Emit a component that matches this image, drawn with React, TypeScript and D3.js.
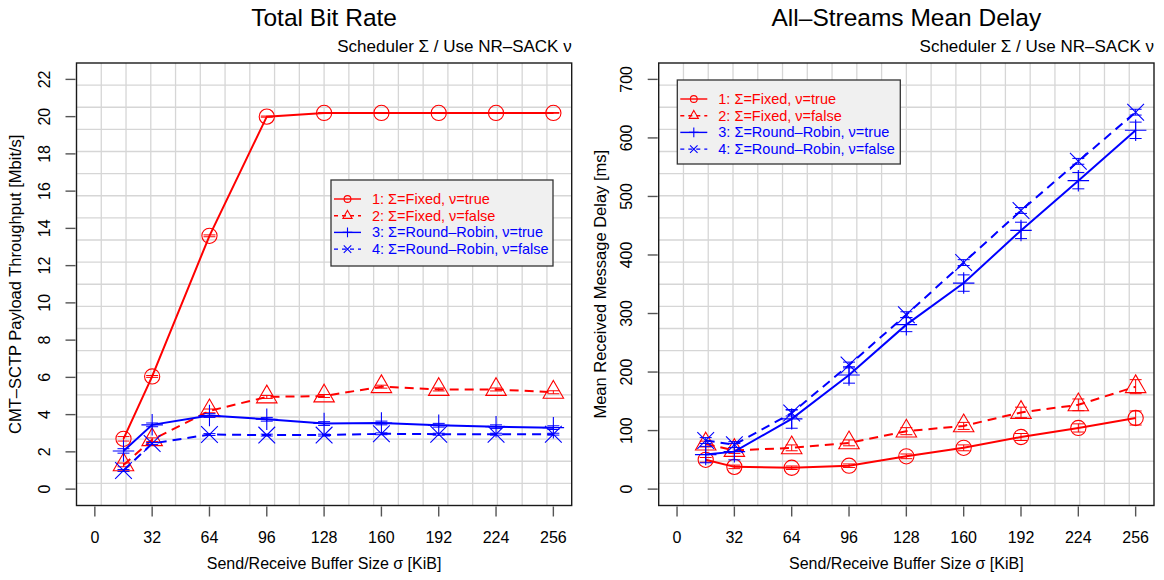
import React, { useRef, useEffect } from 'react';
import * as d3 from 'd3';

// buffer sizes sigma [KiB]
const bufferSizes = [16, 32, 64, 96, 128, 160, 192, 224, 256];
const xTicks = [0, 32, 64, 96, 128, 160, 192, 224, 256];
const rateTicks = [0, 2, 4, 6, 8, 10, 12, 14, 16, 18, 20, 22];
const delayTicks = [0, 100, 200, 300, 400, 500, 600, 700];

const seriesLabels = [
  '1: Σ=Fixed, ν=true',
  '2: Σ=Fixed, ν=false',
  '3: Σ=Round–Robin, ν=true',
  '4: Σ=Round–Robin, ν=false',
];

// total bit rate [Mbit/s]
const rateFixedTrue = [2.7, 6.05, 13.6, 20.0, 20.2, 20.2, 20.2, 20.2, 20.2];
const rateFixedFalse = [1.3, 2.65, 4.2, 4.95, 5.0, 5.5, 5.35, 5.35, 5.2];
const rateRRTrue = [2.05, 3.45, 3.95, 3.75, 3.52, 3.55, 3.43, 3.35, 3.3];
const rateRRFalse = [1.0, 2.45, 2.93, 2.9, 2.9, 2.97, 2.95, 2.95, 2.95];
const rateErrFixedTrue = [0.12, 0.05, 0.05, 0.03, 0.02, 0.02, 0.02, 0.02, 0.02];
const rateErrFixedFalse = [0.1, 0.1, 0.1, 0.08, 0.08, 0.08, 0.08, 0.08, 0.08];
const rateErrRRTrue = [0.12, 0.1, 0.1, 0.1, 0.1, 0.1, 0.1, 0.1, 0.1];
const rateErrRRFalse = [0.05, 0.05, 0.05, 0.05, 0.05, 0.05, 0.05, 0.05, 0.05];

// mean delay [ms]
const delayFixedTrue = [50, 38, 36.5, 40, 56, 70.5, 89, 104.5, 121.5];
const delayFixedFalse = [77, 66, 70.5, 79, 99, 108, 131, 144, 175];
const delayRRTrue = [59, 64, 120, 195, 281, 352, 442, 527, 613];
const delayRRFalse = [83, 76, 130, 212, 298, 387, 476, 560, 644];
const delayErrFixedTrue = [4, 3, 3, 3, 4, 5, 6, 7, 12];
const delayErrFixedFalse = [5, 5, 5, 5, 6, 6, 9, 10, 12];
const delayErrRRTrue = [14, 14, 16, 14, 12, 14, 14, 14, 14];
const delayErrRRFalse = [5, 5, 5, 5, 5, 5, 5, 5, 5];

const FONT = "'Liberation Sans', Arial, Helvetica, sans-serif";
const RED = '#ff0000';
const BLUE = '#0000ff';

const seriesStyle = [
  { color: RED, dash: null, pch: 'circle' },
  { color: RED, dash: '9,6', pch: 'triangle' },
  { color: BLUE, dash: null, pch: 'plus' },
  { color: BLUE, dash: '9,6', pch: 'cross' },
];

const drawMarker = (g, pch, cx, cy, r, color) => {
  if (pch === 'circle') {
    g.append('circle')
      .attr('cx', cx)
      .attr('cy', cy)
      .attr('r', r)
      .attr('fill', 'none')
      .attr('stroke', color)
      .attr('stroke-width', 1.1);
  } else if (pch === 'triangle') {
    const xc = 1.3468 * r;
    const top = 1.5551 * r;
    const bot = 0.7776 * r;
    g.append('path')
      .attr(
        'd',
        `M${cx},${cy - top}L${cx + xc},${cy + bot}L${cx - xc},${cy + bot}Z`
      )
      .attr('fill', 'none')
      .attr('stroke', color)
      .attr('stroke-width', 1.1);
  } else if (pch === 'plus') {
    const a = 1.4142 * r;
    g.append('path')
      .attr('d', `M${cx - a},${cy}H${cx + a}M${cx},${cy - a}V${cy + a}`)
      .attr('stroke', color)
      .attr('stroke-width', 1.1);
  } else {
    const a = r * 1.1;
    g.append('path')
      .attr(
        'd',
        `M${cx - a},${cy - a}L${cx + a},${cy + a}M${cx - a},${cy + a}L${cx + a},${cy - a}`
      )
      .attr('stroke', color)
      .attr('stroke-width', 1.1);
  }
};

const renderPanel = (svg, cfg) => {
  const { left, right, top, bottom, xDomain, yDomain, yTicks } = cfg;
  const xScale = d3.scaleLinear().domain(xDomain).range([left, right]);
  const yScale = d3.scaleLinear().domain(yDomain).range([bottom, top]);
  const g = svg.append('g');

  // grid, 20 x 20 cells over the plot region
  const grid = g.append('g').attr('stroke', '#d6d6d6').attr('stroke-width', 1.3);
  d3.range(1, 20).forEach((k) => {
    const xv = xDomain[0] + (k * (xDomain[1] - xDomain[0])) / 20;
    const yv = yDomain[0] + (k * (yDomain[1] - yDomain[0])) / 20;
    grid
      .append('line')
      .attr('x1', xScale(xv))
      .attr('x2', xScale(xv))
      .attr('y1', top)
      .attr('y2', bottom);
    grid
      .append('line')
      .attr('x1', left)
      .attr('x2', right)
      .attr('y1', yScale(yv))
      .attr('y2', yScale(yv));
  });

  // x axis
  xTicks.forEach((t) => {
    g.append('line')
      .attr('x1', xScale(t))
      .attr('x2', xScale(t))
      .attr('y1', bottom + 1)
      .attr('y2', bottom + 11)
      .attr('stroke', '#555')
      .attr('stroke-width', 1.4);
    g.append('text')
      .attr('x', xScale(t))
      .attr('y', bottom + 37)
      .attr('text-anchor', 'middle')
      .attr('font-size', 16)
      .text(t);
  });

  // y axis
  yTicks.forEach((t) => {
    g.append('line')
      .attr('x1', left - 11)
      .attr('x2', left - 1)
      .attr('y1', yScale(t))
      .attr('y2', yScale(t))
      .attr('stroke', '#555')
      .attr('stroke-width', 1.4);
    g.append('text')
      .attr('transform', `translate(${left - cfg.yLabelOffset},${yScale(t)}) rotate(-90)`)
      .attr('text-anchor', 'middle')
      .attr('font-size', 16)
      .text(t);
  });

  const cx = (left + right) / 2;
  g.append('text')
    .attr('x', cx)
    .attr('y', bottom + 63)
    .attr('text-anchor', 'middle')
    .attr('font-size', 16)
    .text('Send/Receive Buffer Size σ [KiB]');
  g.append('text')
    .attr('transform', `translate(${left - cfg.yTitleOffset},${(top + bottom) / 2}) rotate(-90)`)
    .attr('text-anchor', 'middle')
    .attr('font-size', 16.5)
    .text(cfg.yTitle);
  g.append('text')
    .attr('x', cx)
    .attr('y', 26)
    .attr('text-anchor', 'middle')
    .attr('font-size', 24.5)
    .text(cfg.title);
  g.append('text')
    .attr('x', right)
    .attr('y', 52)
    .attr('text-anchor', 'end')
    .attr('font-size', 17)
    .text('Scheduler Σ / Use NR–SACK ν');

  // series
  cfg.series.forEach((values, i) => {
    const st = seriesStyle[i];
    const errs = cfg.errors[i];
    const line = d3
      .line()
      .x((d, j) => xScale(bufferSizes[j]))
      .y((d) => yScale(d));
    g.append('path')
      .attr('d', line(values))
      .attr('fill', 'none')
      .attr('stroke', st.color)
      .attr('stroke-width', 2)
      .attr('stroke-dasharray', st.dash);
    values.forEach((v, j) => {
      const px = xScale(bufferSizes[j]);
      const y0 = yScale(v - errs[j]);
      const y1 = yScale(v + errs[j]);
      g.append('path')
        .attr('d', `M${px},${y0}V${y1}M${px - 6},${y0}H${px + 6}M${px - 6},${y1}H${px + 6}`)
        .attr('stroke', st.color)
        .attr('stroke-width', 1);
      drawMarker(g, st.pch, px, yScale(v), 7.6, st.color);
    });
  });

  // legend
  const lg = cfg.legend;
  g.append('rect')
    .attr('x', lg.x)
    .attr('y', lg.y)
    .attr('width', lg.w)
    .attr('height', lg.h)
    .attr('fill', '#f0f0f0')
    .attr('stroke', '#333')
    .attr('stroke-width', 1.3);
  seriesLabels.forEach((label, i) => {
    const st = seriesStyle[i];
    const ry = lg.y + 19 + i * 16.7;
    g.append('line')
      .attr('x1', lg.x + 3)
      .attr('x2', lg.x + 30)
      .attr('y1', ry)
      .attr('y2', ry)
      .attr('stroke', st.color)
      .attr('stroke-width', 1.4)
      .attr('stroke-dasharray', st.dash ? '4,4' : null);
    drawMarker(g, st.pch, lg.x + 16.5, ry, 3.4, st.color);
    g.append('text')
      .attr('x', lg.x + 41)
      .attr('y', ry + 5)
      .attr('font-size', 14.5)
      .attr('fill', st.color)
      .text(label);
  });

  g.append('rect')
    .attr('x', left)
    .attr('y', top)
    .attr('width', right - left)
    .attr('height', bottom - top)
    .attr('fill', 'none')
    .attr('stroke', '#1a1a1a')
    .attr('stroke-width', 1.4);
};

export default function App() {
  const svgEl = useRef(null);

  useEffect(() => {
    document.body.style.margin = '0';
    const svg = d3.select(svgEl.current);
    svg.selectAll('*').remove();
    svg.append('rect').attr('width', 1164).attr('height', 580).attr('fill', '#fff');

    renderPanel(svg, {
      left: 76.5,
      right: 571.7,
      top: 63,
      bottom: 505.5,
      xDomain: [-10.24, 266.24],
      yDomain: [-0.88, 22.88],
      yTicks: rateTicks,
      yLabelOffset: 27,
      yTitleOffset: 56,
      title: 'Total Bit Rate',
      yTitle: 'CMT–SCTP Payload Throughput [Mbit/s]',
      series: [rateFixedTrue, rateFixedFalse, rateRRTrue, rateRRFalse],
      errors: [rateErrFixedTrue, rateErrFixedFalse, rateErrRRTrue, rateErrRRFalse],
      legend: { x: 331, y: 180, w: 222, h: 86 },
    });

    renderPanel(svg, {
      left: 658.7,
      right: 1154,
      top: 63,
      bottom: 505.5,
      xDomain: [-10.24, 266.24],
      yDomain: [-28, 728],
      yTicks: delayTicks,
      yLabelOffset: 27,
      yTitleOffset: 53,
      title: 'All–Streams Mean Delay',
      yTitle: 'Mean Received Message Delay [ms]',
      series: [delayFixedTrue, delayFixedFalse, delayRRTrue, delayRRFalse],
      errors: [delayErrFixedTrue, delayErrFixedFalse, delayErrRRTrue, delayErrRRFalse],
      legend: { x: 677.3, y: 80, w: 223, h: 84 },
    });
  }, []);

  return (
    <div>
      <svg
        ref={svgEl}
        width={1164}
        height={580}
        style={{ display: 'block', fontFamily: FONT }}
      ></svg>
    </div>
  );
}
